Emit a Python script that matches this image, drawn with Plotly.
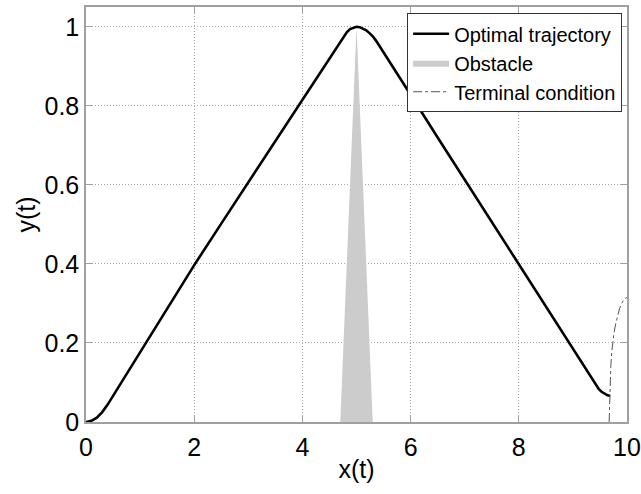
import plotly.graph_objects as go

# Optimal trajectory
traj_x = [0.0, 0.1, 0.2, 0.3, 0.4, 1.0, 1.5, 2.015, 2.5, 3.0, 3.5, 3.925, 4.3, 4.6, 4.76,
          4.82, 4.88, 4.94, 5.0, 5.06, 5.12, 5.18, 5.24, 5.30, 5.36, 5.398, 6.0, 6.5, 7.0,
          7.5, 8.0, 8.5, 8.92, 9.2, 9.33, 9.38, 9.43, 9.48, 9.53, 9.58, 9.63, 9.69]
traj_y = [0.0, 0.003, 0.011, 0.025, 0.044, 0.175, 0.284, 0.4, 0.502, 0.606, 0.711, 0.8, 0.878, 0.941, 0.975,
          0.986, 0.994, 0.998, 1.0, 0.999, 0.996, 0.991, 0.984, 0.976, 0.965, 0.957, 0.828, 0.720, 0.613,
          0.505, 0.398, 0.290, 0.2, 0.140, 0.112, 0.1015, 0.0915, 0.083, 0.0765, 0.0715, 0.068, 0.066]

# Obstacle (triangle)
obs_x = [4.7, 5.0, 5.3, 4.7]
obs_y = [0.0, 1.0, 0.0, 0.0]

# Terminal condition curve
term_x = [9.67, 9.686, 9.70, 9.72, 9.735, 9.76, 9.79, 9.82, 9.86, 9.90, 9.95, 10.0]
term_y = [0.0, 0.081, 0.14, 0.18, 0.2, 0.225, 0.248, 0.267, 0.286, 0.30, 0.311, 0.315]

x_ticks = [0, 2, 4, 6, 8, 10]
x_labels = ["0", "2", "4", "6", "8", "10"]
y_ticks = [0, 0.2, 0.4, 0.6, 0.8, 1.0]
y_labels = ["0", "0.2", "0.4", "0.6", "0.8", "1"]

FONT = "Liberation Sans, Arial, Helvetica, sans-serif"

fig = go.Figure()
fig.add_trace(go.Scatter(x=obs_x, y=obs_y, fill="toself", mode="lines",
                         line=dict(width=0, color="#cccccc"), fillcolor="#cccccc",
                         name="Obstacle", legendrank=2, hoverinfo="skip"))
fig.add_trace(go.Scatter(x=traj_x, y=traj_y, mode="lines",
                         line=dict(color="black", width=2.6),
                         name="Optimal trajectory", legendrank=1))
fig.add_trace(go.Scatter(x=term_x, y=term_y, mode="lines",
                         line=dict(color="#555555", width=1, dash="dashdot"),
                         name="Terminal condition", legendrank=3))

axis_common = dict(showline=True, linecolor="#a0a0a0", linewidth=1.5, mirror="ticks",
                   ticks="inside", ticklen=6, tickcolor="#a0a0a0", tickwidth=1,
                   showgrid=True, gridcolor="#a8a8a8", gridwidth=1, griddash="1px,2px",
                   zeroline=False, automargin=False,
                   tickfont=dict(family=FONT, size=25, color="black"))

fig.update_xaxes(range=[0, 10], tickvals=x_ticks, ticktext=x_labels, ticklabelstandoff=2,
                 title=dict(text="x(t)", font=dict(family=FONT, size=25, color="black"), standoff=1),
                 **axis_common)
fig.update_yaxes(range=[0, 1.05], tickvals=y_ticks, ticktext=y_labels, ticklabelstandoff=0,
                 title=dict(text="y(t)", font=dict(family=FONT, size=25, color="black"), standoff=2),
                 **axis_common)

fig.update_layout(
    width=641, height=494,
    margin=dict(l=86, r=14, t=7, b=72),
    paper_bgcolor="white", plot_bgcolor="white",
    showlegend=True,
    legend=dict(x=0.991, y=0.985, xanchor="right", yanchor="top",
                bgcolor="white", bordercolor="#333333", borderwidth=1,
                font=dict(family=FONT, size=20, color="black"),
                tracegroupgap=0, itemwidth=36),
)

fig.write_html("out.html", config={"displayModeBar": False},
               post_script="document.body.style.margin='0px';")
